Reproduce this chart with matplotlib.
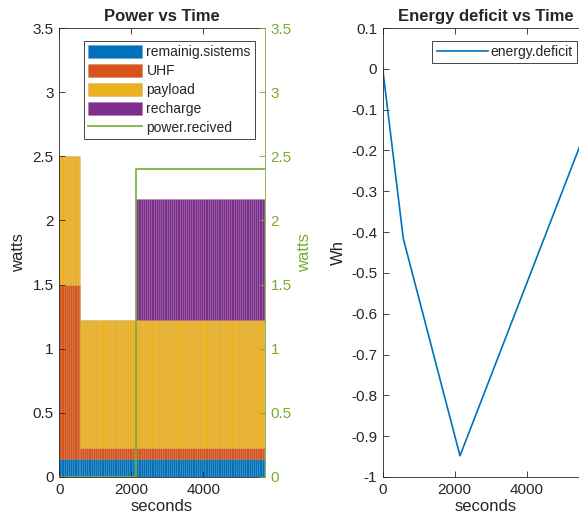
import numpy as np
import matplotlib
matplotlib.use("Agg")
import matplotlib.pyplot as plt
from matplotlib.patches import Patch
from matplotlib.lines import Line2D

plt.rcParams['font.family'] = ['Liberation Sans', 'DejaVu Sans']
plt.rcParams['axes.unicode_minus'] = False

# ---- data ----
seg_start = [0, 570, 2140]
seg_end = [570, 2140, 5714]
bar_step = 60
remaining_systems = [0.14, 0.14, 0.14]
uhf = [1.36, 0.085, 0.085]
payload = [1.0, 1.0, 1.0]
recharge = [0.0, 0.0, 0.94]
series_names = ['remainig.sistems', 'UHF', 'payload', 'recharge']

power_t = [0, 2135, 2135, 5714]
power_received = [0.0, 0.0, 2.4, 2.4]

energy_t = [0, 572, 2147, 5714]
energy_deficit = [0.0, -0.416, -0.948, -0.135]

x_ticks = [0, 2000, 4000]
left_yticks = [0, 0.5, 1, 1.5, 2, 2.5, 3, 3.5]
left_ytick_labels = ['0', '0.5', '1', '1.5', '2', '2.5', '3', '3.5']
right_yticks = [-1, -0.9, -0.8, -0.7, -0.6, -0.5, -0.4, -0.3, -0.2, -0.1, 0, 0.1]
right_ytick_labels = ['-1', '-0.9', '-0.8', '-0.7', '-0.6', '-0.5', '-0.4', '-0.3', '-0.2', '-0.1', '0', '0.1']

colors = ['#0072BD', '#D95319', '#EDB120', '#7E2F8E']
green = '#77AC30'
dark = '#262626'
TICK_FS = 11
LABEL_FS = 12
TITLE_FS = 12
LEG_FS = 10

# ---- build bars ----
edges_list = []
idx_list = []
for i, (s, e) in enumerate(zip(seg_start, seg_end)):
    ed = list(np.arange(s, e, bar_step))
    edges_list += ed
    idx_list += [i] * len(ed)
edges = np.array(edges_list + [seg_end[-1]], dtype=float)
widths = np.diff(edges)
lefts = edges[:-1]
idx = np.array(idx_list)
stack = [np.array(v)[idx] for v in (remaining_systems, uhf, payload, recharge)]

W, H = 579, 529
fig = plt.figure(figsize=(W / 100, H / 100), dpi=100)
ax_w = 205.7 / W
ax_h = 449 / H
ax1 = fig.add_axes([59.3 / W, 52 / H, ax_w, ax_h])
ax3 = fig.add_axes([382.7 / W, 52 / H, ax_w, ax_h])

bottom = np.zeros(len(lefts))
for vals, c in zip(stack, colors):
    ax1.bar(lefts, vals, width=widths, bottom=bottom, align='edge', color=c,
            edgecolor=(0, 0, 0, 0.06), linewidth=0.5)
    bottom = bottom + vals

ax1.set_xticks(x_ticks)
ax1.set_yticks(left_yticks)
ax1.set_yticklabels(left_ytick_labels)
ax1.set_xlim(0, 5714)
ax1.set_ylim(0, 3.5)
ax1.set_xlabel('seconds', fontsize=LABEL_FS, color=dark, labelpad=2)
ax1.set_ylabel('watts', fontsize=LABEL_FS, color=dark, labelpad=5)
ax1.set_title('Power vs Time', fontsize=TITLE_FS, fontweight='bold', color=dark, pad=5)
ax1.tick_params(direction='in', length=4, labelsize=TICK_FS, colors=dark, top=True, width=0.6, pad=4)
ax1.spines['right'].set_visible(False)
for sp in ['left', 'top', 'bottom']:
    ax1.spines[sp].set_color(dark)
    ax1.spines[sp].set_linewidth(0.6)

ax2 = ax1.twinx()
ax2.plot(power_t, power_received, color=green, linewidth=1.2)
ax2.set_yticks(left_yticks)
ax2.set_yticklabels(left_ytick_labels)
ax2.set_ylim(0, 3.5)
ax2.set_xlim(0, 5714)
ax2.set_ylabel('watts', fontsize=LABEL_FS, color=green, labelpad=4, rotation=90)
ax2.tick_params(axis='y', direction='in', length=4, labelsize=TICK_FS, colors=green, width=0.6, pad=4)
for sp in ['left', 'top', 'bottom']:
    ax2.spines[sp].set_visible(False)
ax2.spines['right'].set_color(green)
ax2.spines['right'].set_linewidth(0.6)

handles = [Patch(facecolor=c, edgecolor=(0, 0, 0, 0.12), linewidth=0.5) for c in colors]
handles.append(Line2D([0], [0], color=green, linewidth=1.2))
leg = ax2.legend(handles, series_names + ['power.recived'], loc='upper right',
                 bbox_to_anchor=(0.951, 0.972), fontsize=LEG_FS, handlelength=3.9,
                 handleheight=1.05, handletextpad=0.3, labelspacing=0.35,
                 borderpad=0.3, borderaxespad=0, fancybox=False, framealpha=1)
leg.get_frame().set_edgecolor(dark)
leg.get_frame().set_linewidth(0.6)
for t in leg.get_texts():
    t.set_color(dark)

# ---- energy deficit ----
ax3.plot(energy_t, energy_deficit, color='#0072BD', linewidth=1.2, label='energy.deficit')
ax3.set_xticks(x_ticks)
ax3.set_yticks(right_yticks)
ax3.set_yticklabels(right_ytick_labels)
ax3.set_xlim(0, 5714)
ax3.set_ylim(-1, 0.1)
ax3.set_xlabel('seconds', fontsize=LABEL_FS, color=dark, labelpad=2)
ax3.set_ylabel('Wh', fontsize=LABEL_FS, color=dark, labelpad=4)
ax3.set_title('Energy deficit vs Time', fontsize=TITLE_FS, fontweight='bold', color=dark, pad=5)
ax3.tick_params(direction='in', length=4, labelsize=TICK_FS, colors=dark, top=True, right=True, width=0.6, pad=4)
for sp in ax3.spines.values():
    sp.set_color(dark)
    sp.set_linewidth(0.6)
leg2 = ax3.legend(loc='upper right', bbox_to_anchor=(0.945, 0.972), fontsize=LEG_FS,
                  handlelength=3.7, handletextpad=0.2, borderpad=0.3, borderaxespad=0,
                  fancybox=False, framealpha=1)
leg2.get_frame().set_edgecolor(dark)
leg2.get_frame().set_linewidth(0.6)
for t in leg2.get_texts():
    t.set_color(dark)

fig.savefig('out.png', dpi=100)
